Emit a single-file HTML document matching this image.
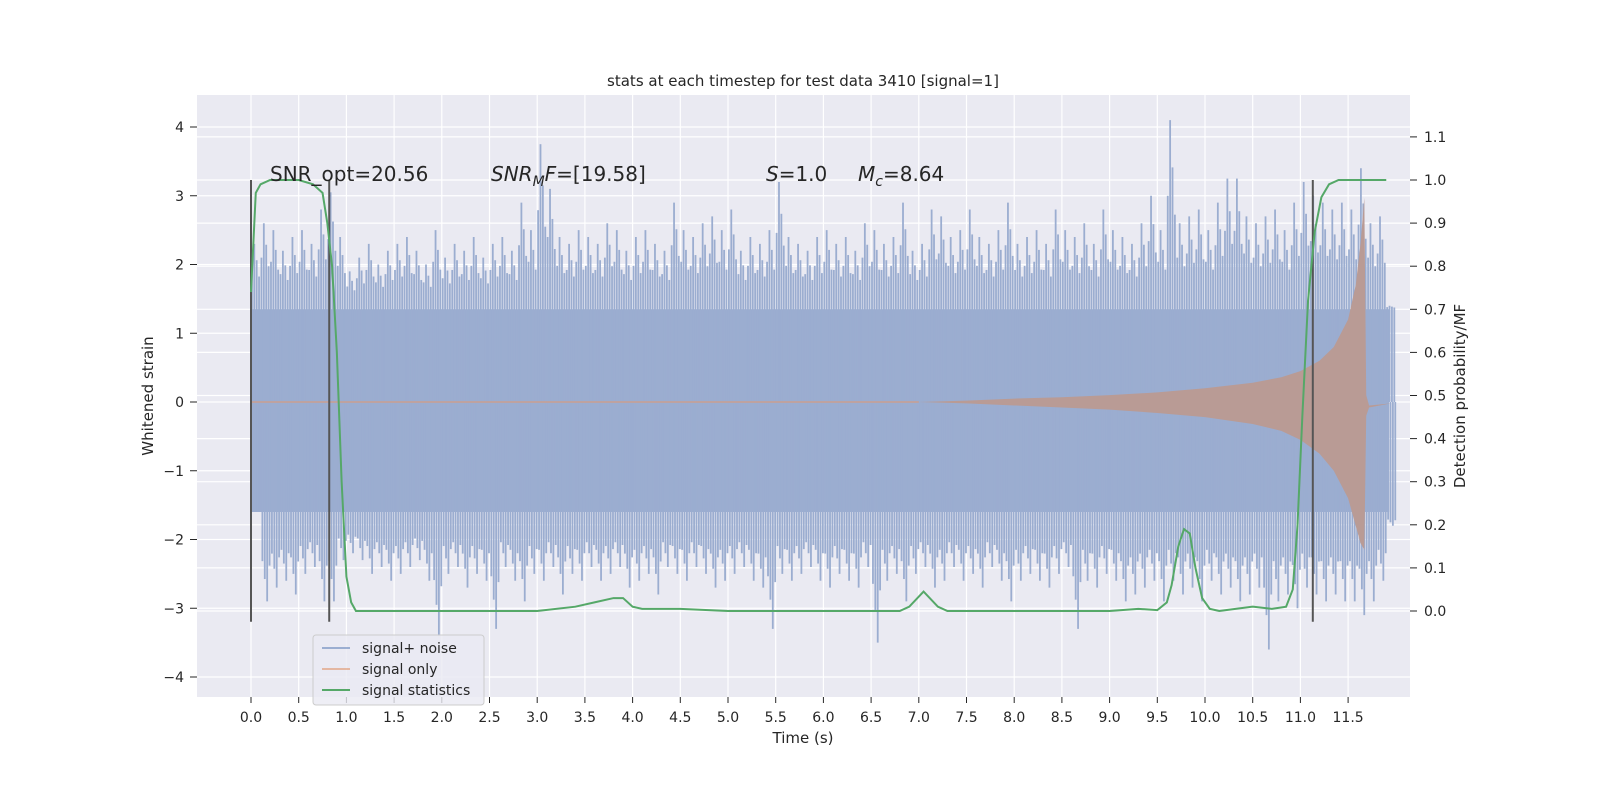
<!DOCTYPE html>
<html><head><meta charset="utf-8"><style>
html,body{margin:0;background:#fff;overflow:hidden;width:1600px;height:800px;}
svg{display:block;font-family:"DejaVu Sans","Liberation Sans",sans-serif;}
</style></head><body>
<svg id="chart" width="1600" height="800" viewBox="0 0 1600 800">
<defs><clipPath id="pc"><rect x="197" y="95" width="1213" height="602"/></clipPath></defs>
<rect x="197" y="95" width="1213" height="602" fill="#eaeaf2"/>
<g id="grid"></g><g id="marks" clip-path="url(#pc)"></g><g id="axes"></g>
<text x="803" y="86" text-anchor="middle" font-size="15" fill="#262626">stats at each timestep for test data 3410 [signal=1]</text>
<text x="803" y="743" text-anchor="middle" font-size="15" fill="#262626">Time (s)</text>
<text transform="translate(153,396) rotate(-90)" text-anchor="middle" font-size="15" fill="#262626">Whitened strain</text>
<text transform="translate(1465,396) rotate(-90)" text-anchor="middle" font-size="15" fill="#262626">Detection probability/MF</text>
<g font-size="20" fill="#262626">
<text x="270" y="181">SNR_opt=20.56</text>
<text x="491" y="181"><tspan font-style="italic">SNR</tspan><tspan font-style="italic" font-size="14" dy="5">M</tspan><tspan font-style="italic" dy="-5">F</tspan>=[19.58]</text>
<text x="766" y="181"><tspan font-style="italic">S</tspan>=1.0</text>
<text x="858" y="181"><tspan font-style="italic">M</tspan><tspan font-style="italic" font-size="14" dy="5">c</tspan><tspan dy="-5">=8.64</tspan></text>
</g>
<g>
<rect x="313" y="635" width="171" height="70" rx="3" fill="#eaeaf2" fill-opacity="0.8" stroke="#ccc"/>
<line x1="322" y1="648" x2="350" y2="648" stroke="#4c72b0" stroke-opacity="0.5" stroke-width="2"/>
<text x="362" y="653" font-size="14" fill="#262626">signal+ noise</text>
<line x1="322" y1="669" x2="350" y2="669" stroke="#dd8452" stroke-opacity="0.5" stroke-width="2"/>
<text x="362" y="674" font-size="14" fill="#262626">signal only</text>
<line x1="322" y1="690" x2="350" y2="690" stroke="#55a868" stroke-width="2"/>
<text x="362" y="695" font-size="14" fill="#262626">signal statistics</text>
</g>
</svg>
<script>
const xTicks=[0,0.5,1,1.5,2,2.5,3,3.5,4,4.5,5,5.5,6,6.5,7,7.5,8,8.5,9,9.5,10,10.5,11,11.5];
const yTicks=[-4,-3,-2,-1,0,1,2,3,4];
const rTicks=[0,0.1,0.2,0.3,0.4,0.5,0.6,0.7,0.8,0.9,1.0,1.1];
// noise envelope, one value per 0.1 s (0.0..11.9)
const noiseUpper=[2.3,2.6,2.5,2.2,2.4,2.5,2.3,2.8,3.05,2.4,1.9,2.1,2.3,2.0,2.2,2.3,2.4,2.2,2.0,2.5,2.1,2.3,2.2,2.4,2.1,2.3,2.4,2.2,2.9,2.5,3.75,3.1,2.4,2.3,2.5,2.4,2.3,2.6,2.5,2.2,2.4,2.5,2.3,2.2,2.9,2.5,2.4,2.6,2.7,2.5,2.8,2.2,2.4,2.3,2.5,3.2,2.4,2.3,2.2,2.4,2.5,2.3,2.4,2.2,2.6,2.5,2.3,2.4,2.9,2.2,2.3,2.8,2.7,2.4,2.5,2.8,2.4,2.3,2.5,2.9,2.3,2.4,2.5,2.3,2.8,2.5,2.4,2.6,2.3,2.8,2.5,2.4,2.3,2.6,3.0,2.5,4.1,2.6,2.7,2.8,2.5,2.9,3.25,3.25,2.7,2.6,2.7,2.8,2.5,2.9,3.2,3.0,2.9,2.8,2.9,2.8,3.4,2.6,2.7,1.4];
const noiseLower=[-1.6,-2.9,-2.7,-2.6,-2.8,-2.5,-2.4,-2.9,-2.9,-2.3,-2.2,-2.3,-2.5,-2.4,-2.6,-2.5,-2.4,-2.3,-2.6,-3.4,-2.5,-2.4,-2.7,-2.5,-2.6,-3.3,-2.4,-2.6,-2.9,-2.5,-2.6,-2.4,-2.8,-2.5,-2.6,-2.4,-2.6,-2.5,-2.4,-2.7,-2.6,-2.5,-2.8,-2.4,-2.5,-2.6,-2.4,-2.5,-2.7,-2.6,-2.5,-2.4,-2.6,-2.7,-3.3,-2.5,-2.6,-2.5,-2.4,-2.6,-2.7,-2.5,-2.6,-2.7,-2.4,-3.5,-2.6,-2.5,-2.9,-2.5,-2.4,-2.7,-2.6,-2.4,-2.6,-2.5,-2.7,-2.4,-2.6,-2.9,-2.6,-2.5,-2.6,-2.7,-2.5,-2.4,-3.3,-2.6,-2.7,-2.5,-2.6,-2.9,-2.8,-2.7,-2.6,-2.9,-2.6,-2.8,-2.7,-2.9,-2.6,-2.8,-2.7,-2.9,-2.8,-2.7,-3.6,-2.9,-2.8,-3.0,-2.7,-2.8,-2.9,-2.8,-2.9,-2.9,-3.1,-2.9,-2.6,-1.8];
// signal envelope
const sigT=[7.0,7.5,8.0,8.5,9.0,9.5,10.0,10.5,10.8,11.0,11.2,11.35,11.5,11.58,11.63,11.67,11.69,11.72,11.95];
const sigUp=[0.0,0.02,0.05,0.07,0.1,0.14,0.2,0.28,0.36,0.45,0.6,0.8,1.2,1.7,2.3,2.97,0.1,-0.05,-0.02];
const sigLo=[0.0,-0.02,-0.05,-0.08,-0.11,-0.16,-0.22,-0.32,-0.42,-0.55,-0.75,-1.0,-1.4,-1.8,-2.05,-2.15,-0.2,-0.08,-0.02];
// detection probability
const statT=[0,0.05,0.1,0.2,0.3,0.5,0.65,0.75,0.8,0.85,0.9,0.95,1.0,1.05,1.1,1.5,2.5,3.0,3.4,3.6,3.8,3.9,4.0,4.1,4.5,5.0,6.0,6.8,6.9,7.05,7.2,7.3,8.0,9.0,9.3,9.5,9.6,9.65,9.72,9.78,9.84,9.9,9.97,10.05,10.15,10.5,10.7,10.85,10.92,10.97,11.02,11.08,11.15,11.22,11.3,11.4,11.5,11.9];
const statV=[0.74,0.97,0.99,1.0,1.0,1.0,0.99,0.97,0.9,0.8,0.6,0.3,0.08,0.02,0.0,0.0,0.0,0.0,0.01,0.02,0.03,0.03,0.01,0.005,0.005,0.0,0.0,0.0,0.01,0.045,0.01,0.0,0.0,0.0,0.005,0.002,0.02,0.06,0.15,0.19,0.18,0.1,0.03,0.005,0.0,0.01,0.005,0.01,0.05,0.2,0.45,0.72,0.88,0.96,0.99,1.0,1.0,1.0];
const vLines=[0,0.82,11.13];

const NS='http://www.w3.org/2000/svg';
const X=t=>251+t*95.4;
const Y=v=>402-v*68.75;
const R=p=>611-p*431;
function mk(tag,attrs,parent){const e=document.createElementNS(NS,tag);for(const k in attrs)e.setAttribute(k,attrs[k]);parent.appendChild(e);return e;}
const grid=document.getElementById('grid'),marks=document.getElementById('marks'),axes=document.getElementById('axes');
xTicks.forEach(t=>{
 const l=mk('line',{x1:X(t),x2:X(t),y1:95,y2:697,stroke:'#fff','stroke-width':1.2},grid);
 
 const tk=mk('line',{x1:X(t),x2:X(t),y1:697,y2:703,stroke:'#262626'},axes);
 
 const tx=mk('text',{x:X(t),y:722,'text-anchor':'middle','font-size':14,fill:'#262626'},axes);
 tx.textContent=t.toFixed(1);
 
});
yTicks.forEach(v=>{
 const l=mk('line',{x1:197,x2:1410,y1:Y(v),y2:Y(v),stroke:'#fff','stroke-width':1.2},grid);
 
 const tk=mk('line',{x1:190,x2:197,y1:Y(v),y2:Y(v),stroke:'#262626'},axes);
 
 const tx=mk('text',{x:184,y:Y(v)+5,'text-anchor':'end','font-size':14,fill:'#262626'},axes);
 tx.textContent=v<0?'\u2212'+(-v):String(v);
 
});
rTicks.forEach(p=>{
 const l=mk('line',{x1:197,x2:1410,y1:R(p),y2:R(p),stroke:'#fff','stroke-width':1.2},grid);
 
 const tk=mk('line',{x1:1410,x2:1417,y1:R(p),y2:R(p),stroke:'#262626'},axes);
 
 const tx=mk('text',{x:1424,y:R(p)+5,'font-size':14,fill:'#262626'},axes);
 tx.textContent=p.toFixed(1);
 
});
// noise band
const core=mk('rect',{x:X(0),y:Y(1.35),width:X(11.93)-X(0),height:Y(-1.6)-Y(1.35),fill:'#9badd0'},marks);

noiseUpper.forEach((v,i)=>{
 const t=i*0.1;
 for(let k=0;k<4;k++){
  const vv=k==1?v:Math.max(1.35,1.35+(v-1.35)*[0.6,1,0.75,0.5][k]);
  const b=mk('rect',{x:X(t+k*0.025),y:Y(vv),width:1.8,height:Y(0)-Y(vv),fill:'#9badd0'},marks);
  
 }
});
noiseLower.forEach((v,i)=>{
 const t=i*0.1;
 for(let k=0;k<4;k++){
  const vv=k==2?v:Math.min(-1.6,-1.6+(v+1.6)*[0.55,0.75,1,0.6][k]);
  const b=mk('rect',{x:X(t+k*0.025+0.01),y:Y(0),width:1.8,height:Y(vv)-Y(0),fill:'#9badd0'},marks);
  
 }
});
// signal
let pts=sigT.map((t,i)=>X(t)+','+Y(sigUp[i]));
for(let i=sigT.length-1;i>=0;i--)pts.push(X(sigT[i])+','+Y(sigLo[i]));
const sig=mk('polygon',{points:pts.join(' '),fill:'#b99b95'},marks);

const sl=mk('line',{x1:X(0),x2:X(7),y1:Y(0),y2:Y(0),stroke:'#c99f8f','stroke-width':1.5},marks);

vLines.forEach(t=>{
 const l=mk('line',{x1:X(t),x2:X(t),y1:R(1.0),y2:R(-0.025),stroke:'#555','stroke-width':2},marks);
 
});
const st=mk('polyline',{points:statT.map((t,i)=>X(t)+','+R(statV[i])).join(' '),fill:'none',stroke:'#55a868','stroke-width':2},marks);

</script>
</body></html>
